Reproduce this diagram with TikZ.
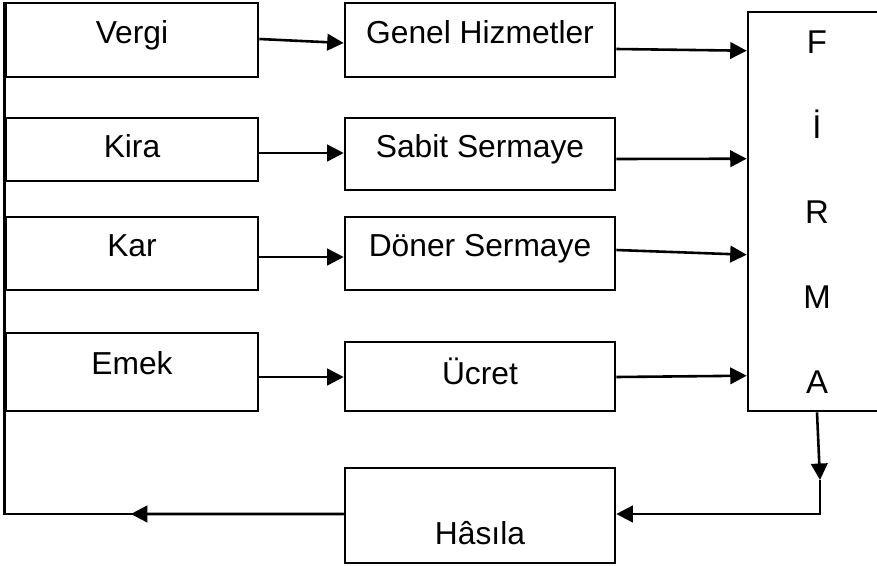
\documentclass[tikz,border=0pt]{standalone}
\usepackage{fontspec}
\setmainfont{Liberation Sans}
\usetikzlibrary{calc}
\usetikzlibrary{arrows.meta}
\tikzset{
  kutu/.style={draw,line width=2.2pt,inner sep=2pt,font=\fontsize{27pt}{32pt}\selectfont,text height=19.3pt},
  hat/.style={line width=2.2pt},
  ok/.style={line width=2.2pt,-{Triangle[length=14pt,width=14pt]}}
}
\begin{document}
\begin{tikzpicture}[x=0.85pt,y=-0.85pt]
\useasboundingbox (0,0) rectangle (877,565);
\node[kutu,minimum width=252*0.85pt,minimum height=74*0.85pt,text depth=12.8pt] (vergi) at (132,40) {Vergi};
\node[kutu,minimum width=252*0.85pt,minimum height=63*0.85pt,text depth=6pt] (kira) at (132,149.5) {Kira};
\node[kutu,minimum width=252*0.85pt,minimum height=73*0.85pt,text depth=13.6pt] (kar) at (132,253.5) {Kar};
\node[kutu,minimum width=252*0.85pt,minimum height=78*0.85pt,text depth=15.3pt] (emek) at (132,372) {Emek};

\node[kutu,minimum width=270*0.85pt,minimum height=74*0.85pt,text depth=12.8pt] (genel) at (480,40) {Genel Hizmetler};
\node[kutu,minimum width=270*0.85pt,minimum height=72*0.85pt,text depth=12.8pt] (sabit) at (480,154) {Sabit Sermaye};
\node[kutu,minimum width=270*0.85pt,minimum height=73*0.85pt,text depth=14.4pt] (doner) at (480,253.5) {Döner Sermaye};
\node[kutu,minimum width=270*0.85pt,minimum height=69*0.85pt,text depth=6pt] (ucret) at (480,376.5) {Ücret};
\node[kutu,minimum width=270*0.85pt,minimum height=95*0.85pt,text height=49pt,text depth=0pt] (hasila) at (480,515.5) {Hâsıla};

\node[kutu,minimum width=138*0.85pt,minimum height=399*0.85pt,align=center,text height=309pt,text depth=0pt,
  font=\fontsize{28pt}{72.25pt}\selectfont] (firma) at (817,211.5) {F\\İ\\R\\M\\A};

\draw[ok] ($(vergi.east)+(0,-1)$) -- ($(genel.west)+(0,3)$);
\draw[ok] ($(kira.east)+(0,3.5)$) -- ($(sabit.west)+(0,-1)$);
\draw[ok] ($(kar.east)+(0,3.5)$) -- ($(doner.west)+(0,3.5)$);
\draw[ok] ($(emek.east)+(0,5)$) -- ($(ucret.west)+(0,0.5)$);

\draw[ok] ($(genel.east)+(0,9)$) -- ($(firma.north west)+(0,40)$);
\draw[ok] ($(sabit.east)+(0,5)$) -- ($(firma.north west)+(0,148)$);
\draw[ok] ($(doner.east)+(0,-3.5)$) -- ($(firma.north west)+(0,244)$);
\draw[ok] ($(ucret.east)+(0,0.5)$) -- ($(firma.north west)+(0,365)$);

\coordinate (donus) at (820,480);
\draw[ok] (firma.south) -- (donus);
\draw[ok] (donus) |- ($(hasila.east)+(0,-1.5)$);

\coordinate (sol) at ($(vergi.west |- hasila.west)+(0,-1.5)$);
\draw[hat] ($(hasila.west)+(0,-1.5)$) -- (sol) -- (vergi.north west);
\draw[ok] ($(hasila.west)+(0,-1.5)$) -- ($($(hasila.west)+(0,-1.5)$)!0.628!(sol)$);
\end{tikzpicture}
\end{document}
